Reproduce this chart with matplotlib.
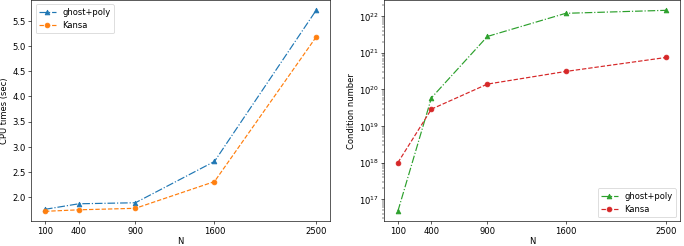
import matplotlib
matplotlib.use("Agg")
import matplotlib.pyplot as plt

N = [100, 400, 900, 1600, 2500]
cpu_ghost = [1.76, 1.87, 1.89, 2.71, 5.71]
cpu_kansa = [1.72, 1.75, 1.78, 2.31, 5.18]
cond_ghost = [4.7e16, 5.9e19, 2.8e21, 1.2e22, 1.45e22]
cond_kansa = [1.0e18, 2.9e19, 1.4e20, 3.1e20, 7.5e20]
xticks = [100, 400, 900, 1600, 2500]

plt.rcParams['xtick.labelsize'] = 10.8
plt.rcParams['ytick.labelsize'] = 10.8
plt.rcParams['axes.labelsize'] = 10.5
plt.rcParams['legend.fontsize'] = 10.5

fig = plt.figure(figsize=(12.0, 4.32), dpi=57)
ax1 = fig.add_axes([0.046, 0.100, 0.436, 0.898])
ax2 = fig.add_axes([0.562, 0.100, 0.432, 0.898])

ax1.plot(N, cpu_ghost, '-.^', color='C0', label='ghost+poly')
ax1.plot(N, cpu_kansa, '--o', color='C1', label='Kansa')
ax1.set_xticks(xticks)
ax1.set_xlabel('N', labelpad=1)
ax1.set_ylabel('CPU times (sec)')
ax1.legend(loc='upper left')

ax2.semilogy(N, cond_ghost, '-.^', color='C2', label='ghost+poly')
ax2.semilogy(N, cond_kansa, '--o', color='C3', label='Kansa')
ax2.set_xticks(xticks)
ax2.set_xlabel('N', labelpad=1)
ax2.set_ylabel('Condition number')
ax2.legend(loc='lower right')

fig.savefig('out.png', dpi=57)
